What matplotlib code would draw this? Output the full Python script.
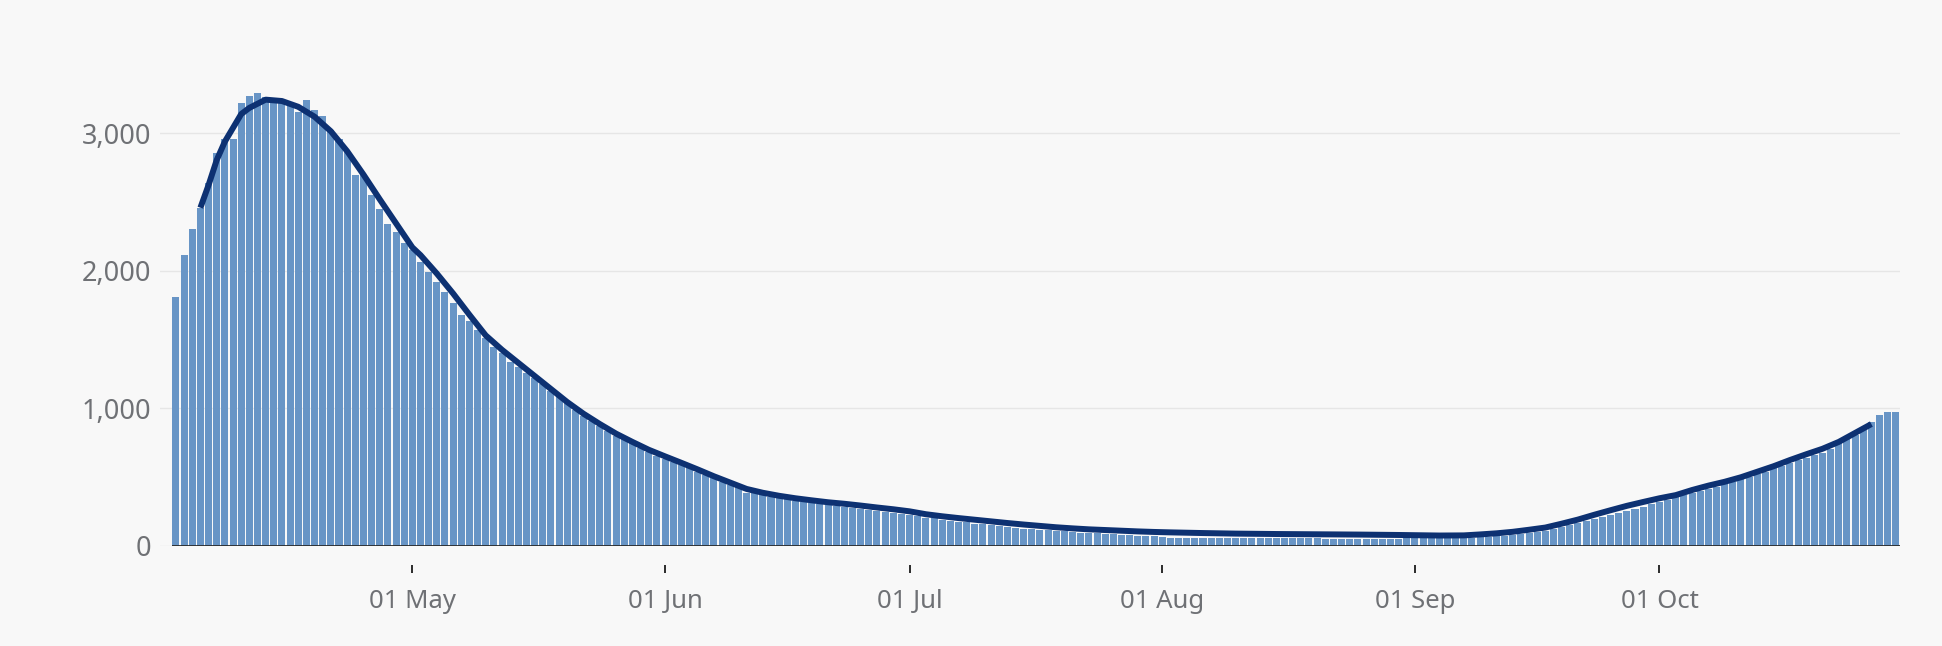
import matplotlib
matplotlib.use("Agg")
import matplotlib.pyplot as plt
import matplotlib.dates as mdates
import numpy as np
import pandas as pd

# ---------------- data ----------------
start_date = "2020-04-02"
daily_values = [
    1806, 2114, 2304, 2459, 2636, 2859, 2961, 2956, 3223, 3269,
    3295, 3265, 3250, 3240, 3205, 3157, 3242, 3169, 3126, 3024,
    2956, 2866, 2696, 2696, 2551, 2449, 2340, 2284, 2199, 2150,
    2066, 1993, 1920, 1848, 1763, 1678, 1637, 1569, 1508, 1448,
    1399, 1334, 1297, 1258, 1217, 1174, 1128, 1084, 1035, 987,
    946, 909, 870, 837, 800, 774, 744, 708, 684, 652,
    628, 606, 584, 563, 538, 514, 495, 466, 441, 424,
    386, 381, 369, 356, 344, 337, 327, 320, 313, 303,
    296, 289, 281, 274, 269, 262, 255, 245, 235, 228,
    220, 213, 204, 198, 189, 183, 174, 169, 160, 156,
    148, 144, 136, 132, 125, 122, 115, 112, 106, 104,
    98, 96, 91, 89, 85, 83, 79, 77, 73, 71,
    67, 60, 59, 58, 58, 57, 57, 56, 56, 55,
    55, 55, 54, 54, 54, 54, 53, 53, 53, 53,
    53, 52, 52, 52, 52, 52, 52, 52, 52, 52,
    52, 53, 53, 53, 53, 54, 55, 56, 57, 59,
    61, 65, 70, 74, 78, 84, 90, 98, 107, 120,
    133, 147, 162, 177, 192, 207, 223, 239, 255, 270,
    284, 302, 320, 334, 352, 369, 386, 400, 415, 429,
    446, 463, 483, 502, 521, 538, 563, 580, 604, 623,
    640, 660, 677, 703, 744, 774, 805, 841, 900, 953,
    972, 974,
]

# rolling-average line: day offset from start, value
avg_day_offsets = [
    3, 4, 5, 6, 8, 9, 11, 13, 15, 17, 19, 21, 23, 25, 27, 29, 30, 32, 34, 36,
    38, 40, 42, 44, 46, 48, 50, 52, 54, 56, 58, 60, 62, 64, 66, 68, 70, 72, 74, 76,
    78, 80, 82, 84, 86, 88, 90, 92, 94, 96, 98, 100, 102, 104, 106, 108, 110, 112, 114, 116,
    118, 120, 122, 126, 130, 135, 140, 145, 150, 155, 158, 160, 162, 164, 166, 168, 170, 172, 174, 176,
    178, 180, 182, 184, 186, 188, 190, 192, 194, 196, 198, 200, 202, 204, 206, 208,
]
avg_values = [
    2459, 2624, 2806, 2940, 3140, 3185, 3245, 3235, 3193, 3121, 3015, 2870, 2700, 2520, 2345, 2170, 2114, 1980, 1835, 1680,
    1530, 1425, 1330, 1235, 1140, 1045, 960, 885, 815, 755, 698, 650, 603, 555, 505, 459, 413, 385, 363, 345,
    330, 316, 305, 292, 278, 265, 250, 229, 214, 201, 189, 177, 165, 154, 144, 134, 126, 119, 114, 109,
    104, 100, 97, 92, 88, 85, 83, 81, 78, 74, 75, 82, 90, 101, 116, 132, 160, 190, 225, 258,
    290, 318, 345, 368, 405, 437, 465, 498, 538, 578, 623, 665, 705, 755, 820, 885,
]

x_tick_dates = ["2020-05-01", "2020-06-01", "2020-07-01", "2020-08-01", "2020-09-01", "2020-10-01"]
x_tick_labels = ["01 May", "01 Jun", "01 Jul", "01 Aug", "01 Sep", "01 Oct"]
y_ticks = [0, 1000, 2000, 3000]
y_tick_labels = ["0", "1,000", "2,000", "3,000"]

# ---------------- styling ----------------
BG = "#f8f8f8"
BAR_COLOR = "#6895c6"
LINE_COLOR = "#0d3172"
GRID_COLOR = "#e6e6e6"
TEXT_COLOR = "#6f7175"
DARK = "#2b2b2b"

plt.rcParams["font.family"] = ["Noto Sans", "DejaVu Sans"]

DPI = 100
fig = plt.figure(figsize=(19.42, 6.46), dpi=DPI, facecolor=BG)
ax = fig.add_axes([160 / 1942, (646 - 545.7) / 646, (1899.5 - 160) / 1942, 481.1 / 646])
ax.set_facecolor(BG)

dates = pd.date_range(start_date, periods=len(daily_values), freq="D")
xnum = mdates.date2num(dates)
ax.bar(xnum, daily_values, width=0.86, color=BAR_COLOR, linewidth=0, zorder=2)

avg_x = xnum[0] + np.array(avg_day_offsets)
ax.plot(avg_x, avg_values, color=LINE_COLOR, linewidth=4.3, solid_capstyle="butt",
        solid_joinstyle="round", zorder=3)

# baseline under bars
ax.hlines(0, xnum[0] - 0.5, xnum[-1] + 0.5, color=DARK, linewidth=1.3, zorder=4)

ax.set_xlim(xnum[0] - 1.96, xnum[-1] + 0.45)
ax.set_ylim(0, 3500)

ax.set_yticks(y_ticks)
ax.set_yticklabels(y_tick_labels)
ax.set_xticks(mdates.date2num(pd.to_datetime(x_tick_dates)))
ax.set_xticklabels(x_tick_labels)

for s in ["top", "right", "left"]:
    ax.spines[s].set_visible(False)
ax.spines["bottom"].set_position(("outward", 19 * 72 / DPI))
ax.spines["bottom"].set_visible(False)

ax.yaxis.grid(True, color=GRID_COLOR, linewidth=1.0, zorder=0)
ax.set_axisbelow(True)

ax.tick_params(axis="y", length=0, pad=6, labelsize=19.5, labelcolor=TEXT_COLOR)
ax.tick_params(axis="x", length=8 * 72 / DPI, width=1.4, color=DARK, direction="out",
               pad=11.5, labelsize=18.5, labelcolor=TEXT_COLOR)

fig.savefig("out.png", dpi=DPI, facecolor=BG)
